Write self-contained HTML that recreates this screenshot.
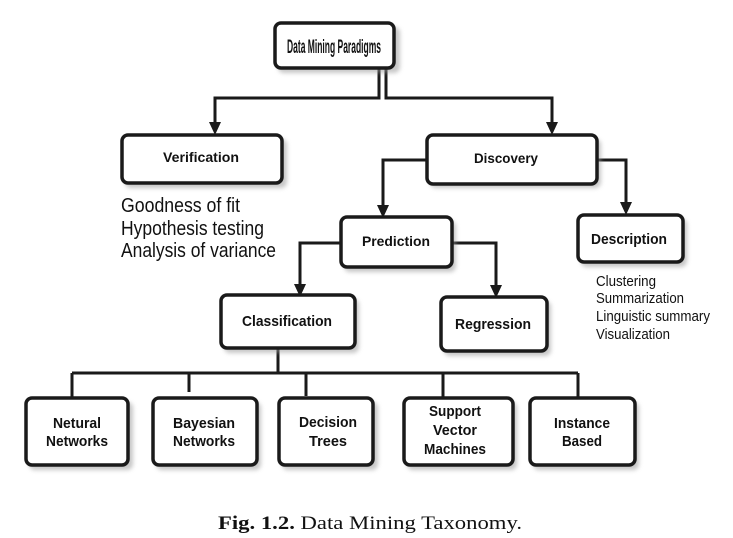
<!DOCTYPE html>
<html><head><meta charset="utf-8"><style>
html,body{margin:0;padding:0;background:#fff;}
svg{display:block;}
.b{fill:#fff;stroke:#1a1a1a;stroke-width:3.5;}
.sh{fill:#999;opacity:.55;filter:url(#bl);}
.t{font-family:"Liberation Sans",sans-serif;font-weight:bold;fill:#111;text-anchor:middle;}
.l{stroke:#1a1a1a;stroke-width:3;fill:none;}
.p{font-family:"Liberation Sans",sans-serif;fill:#111;}
</style></head><body>
<svg width="733" height="538" viewBox="0 0 733 538" xmlns="http://www.w3.org/2000/svg">
<defs><filter id="bl"><feGaussianBlur stdDeviation="2"/></filter></defs>

<path class="l" d="M379 68 V98 H215 V125"/>
<path class="l" d="M386 68 V98 H552 V125"/>
<path class="l" d="M426 160 H383 V208"/>
<path class="l" d="M597 160 H626 V205"/>
<path class="l" d="M340 243 H300 V287"/>
<path class="l" d="M452 243 H496 V288"/>
<path class="l" d="M278 348 V373 M72 373 H578 M72 373 V398 M189 373 V392 M306 373 V396 M443 373 V398 M578 373 V398"/>
<g fill="#1a1a1a">
<polygon points="209,122 221,122 215,135"/>
<polygon points="546,122 558,122 552,135"/>
<polygon points="377,205 389,205 383,218"/>
<polygon points="620,202 632,202 626,215"/>
<polygon points="294,284 306,284 300,297"/>
<polygon points="490,285 502,285 496,298"/>
</g>

<g>
<rect class="sh" x="278" y="27" width="122" height="46" rx="6"/>
<rect class="b" x="275" y="23" width="119" height="45" rx="6"/>
<rect class="sh" x="125" y="139" width="162" height="49" rx="6"/>
<rect class="b" x="122" y="135" width="160" height="48" rx="6"/>
<rect class="sh" x="430" y="139" width="171" height="49" rx="6"/>
<rect class="b" x="427" y="135" width="170" height="49" rx="6"/>
<rect class="sh" x="344" y="221" width="112" height="51" rx="6"/>
<rect class="b" x="341" y="217" width="111" height="50" rx="6"/>
<rect class="sh" x="581" y="219" width="106" height="48" rx="6"/>
<rect class="b" x="578" y="215" width="105" height="47" rx="6"/>
<rect class="sh" x="224" y="299" width="135" height="54" rx="6"/>
<rect class="b" x="221" y="295" width="134" height="53" rx="6"/>
<rect class="sh" x="444" y="301" width="107" height="55" rx="6"/>
<rect class="b" x="441" y="297" width="106" height="54" rx="6"/>
<rect class="sh" x="29" y="402" width="104" height="68" rx="6"/>
<rect class="b" x="26" y="398" width="102" height="67" rx="6"/>
<rect class="sh" x="156" y="402" width="105" height="68" rx="6"/>
<rect class="b" x="153" y="398" width="104" height="67" rx="6"/>
<rect class="sh" x="282" y="402" width="96" height="68" rx="6"/>
<rect class="b" x="279" y="398" width="94" height="67" rx="6"/>
<rect class="sh" x="407" y="402" width="110" height="68" rx="6"/>
<rect class="b" x="404" y="398" width="109" height="67" rx="6"/>
<rect class="sh" x="533" y="402" width="106" height="68" rx="6"/>
<rect class="b" x="530" y="398" width="105" height="67" rx="6"/>
</g>

<text class="t" x="334" y="53" font-size="19" textLength="94" lengthAdjust="spacingAndGlyphs">Data Mining Paradigms</text>
<text class="t" x="201" y="162" font-size="14" textLength="76" lengthAdjust="spacingAndGlyphs">Verification</text>
<text class="t" x="506" y="163" font-size="14" textLength="64" lengthAdjust="spacingAndGlyphs">Discovery</text>
<text class="t" x="396" y="246" font-size="14" textLength="68" lengthAdjust="spacingAndGlyphs">Prediction</text>
<text class="t" x="629" y="244" font-size="15" textLength="76" lengthAdjust="spacingAndGlyphs">Description</text>
<text class="t" x="287" y="326" font-size="15" textLength="90" lengthAdjust="spacingAndGlyphs">Classification</text>
<text class="t" x="493" y="329" font-size="15" textLength="76" lengthAdjust="spacingAndGlyphs">Regression</text>
<g font-size="15">
<text class="t" x="77" y="428" textLength="48" lengthAdjust="spacingAndGlyphs">Netural</text>
<text class="t" x="77" y="446" textLength="62" lengthAdjust="spacingAndGlyphs">Networks</text>
<text class="t" x="204" y="428" textLength="62" lengthAdjust="spacingAndGlyphs">Bayesian</text>
<text class="t" x="204" y="446" textLength="62" lengthAdjust="spacingAndGlyphs">Networks</text>
<text class="t" x="328" y="427" textLength="58" lengthAdjust="spacingAndGlyphs">Decision</text>
<text class="t" x="328" y="446" textLength="38" lengthAdjust="spacingAndGlyphs">Trees</text>
<text class="t" x="455" y="416" textLength="52" lengthAdjust="spacingAndGlyphs">Support</text>
<text class="t" x="455" y="435" textLength="44" lengthAdjust="spacingAndGlyphs">Vector</text>
<text class="t" x="455" y="454" textLength="62" lengthAdjust="spacingAndGlyphs">Machines</text>
<text class="t" x="582" y="428" textLength="56" lengthAdjust="spacingAndGlyphs">Instance</text>
<text class="t" x="582" y="446" textLength="40" lengthAdjust="spacingAndGlyphs">Based</text>
</g>

<g font-size="20">
<text class="p" x="121" y="212" textLength="119" lengthAdjust="spacingAndGlyphs">Goodness of fit</text>
<text class="p" x="121" y="235" textLength="143" lengthAdjust="spacingAndGlyphs">Hypothesis testing</text>
<text class="p" x="121" y="257" textLength="155" lengthAdjust="spacingAndGlyphs">Analysis of variance</text>
</g>
<g font-size="15">
<text class="p" x="596" y="286" textLength="60" lengthAdjust="spacingAndGlyphs">Clustering</text>
<text class="p" x="596" y="303" textLength="88" lengthAdjust="spacingAndGlyphs">Summarization</text>
<text class="p" x="596" y="321" textLength="114" lengthAdjust="spacingAndGlyphs">Linguistic summary</text>
<text class="p" x="596" y="339" textLength="74" lengthAdjust="spacingAndGlyphs">Visualization</text>
</g>

<text x="218" y="529" font-family="Liberation Serif,serif" font-size="19" fill="#111" textLength="304" lengthAdjust="spacingAndGlyphs"><tspan font-weight="bold">Fig. 1.2.</tspan> Data Mining Taxonomy.</text>
</svg>
</body></html>
